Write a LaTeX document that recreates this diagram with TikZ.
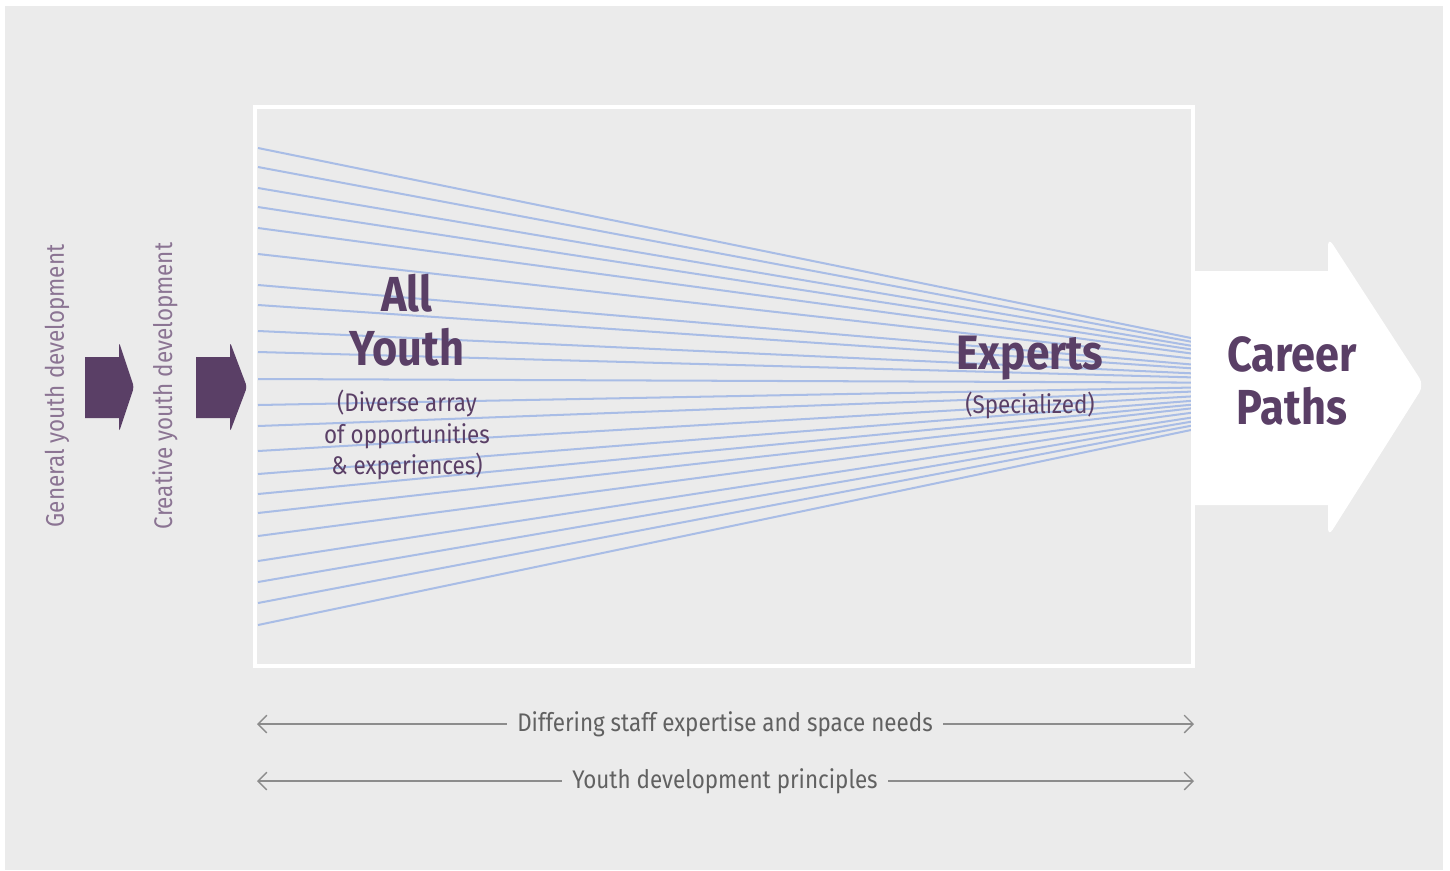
\documentclass[tikz,border=0pt]{standalone}
\usepackage{fontspec}
\setmainfont{Fira Sans}[FakeStretch=0.88]
\usetikzlibrary{arrows.meta,calc,positioning}

\definecolor{bggray}{HTML}{EBEBEB}
\definecolor{plum}{HTML}{5A3F66}
\definecolor{lightplum}{HTML}{8B7493}
\definecolor{fanblue}{HTML}{A9BDE6}
\definecolor{textgray}{HTML}{616161}
\definecolor{rulegray}{HTML}{8C8C8C}

\begin{document}
\begin{tikzpicture}[
    x=0.02cm, y=-0.02cm,
    every node/.style={align=center, inner sep=0pt},
    bigtitle/.style={text=plum, font=\fontsize{28}{30.5}\selectfont\bfseries},
    subtitle/.style={text=plum, font=\fontsize{14.5}{18}\selectfont},
    sidelabel/.style={text=lightplum, font=\fontsize{14.5}{16}\selectfont, rotate=90},
    rangelabel/.style={text=textgray, fill=bggray, inner xsep=6pt, font=\fontsize{14.5}{16}\selectfont},
    fanline/.style={fanblue, line width=1.15pt},
    rangearrow/.style={rulegray, line width=0.8pt, {Straight Barb[length=5pt,width=10pt]}-{Straight Barb[length=5pt,width=10pt]}},
    blockarrow/.style={fill=plum}
]

% --- Background ---
\useasboundingbox (0,0) rectangle (1450,870);
\fill[white] (0,0) rectangle (1450,870);
\fill[bggray] (5,6) rectangle (1443,870);

% --- Fan of lines ---
\foreach \ly [count=\i] in {148,167,188,207,228,254,285,305,331,352,379,405,426,451,474,494,513,536,561,582,603,625} {
    \pgfmathsetmacro{\ry}{338+(\ly-148)/477*92}
    \coordinate (fanL\i) at (258,\ly);
    \coordinate (fanR\i) at (1191,\ry);
    \draw[fanline] (fanL\i) -- (fanR\i);
}

% --- Frame ---
\draw[white, line width=1.8pt] (255,107) rectangle (1193,666);

% --- Small arrows ---
\fill[blockarrow] (85,357) -- (119,357) [rounded corners=2pt] -- (119,342) -- (134,387) -- (119,432) [sharp corners] -- (119,418) -- (85,418) -- cycle;
\fill[blockarrow] (196,357) -- (230,357) [rounded corners=2pt] -- (230,342) -- (247,387) -- (230,432) [sharp corners] -- (230,418) -- (196,418) -- cycle;

% --- Big arrow ---
\fill[white] (1193,271) -- (1328,271) [rounded corners=5pt] -- (1328,237) -- (1424,385) -- (1328,537) [sharp corners] -- (1328,505) -- (1193,505) -- cycle;

% --- Labels ---
\node[sidelabel] (general) at (57,386) {General youth development};
\node[sidelabel] (creative) at (165,386) {Creative youth development};
\node[bigtitle] (allyouth) at (407,320) {All\\Youth};
\node[subtitle] (diverse) at (407,435) {(Diverse array\\of opportunities\\\&~experiences)};
\node[bigtitle, font=\fontsize{27.5}{30}\selectfont\bfseries] (experts) at (1030,358) {Experts};
\node[subtitle, font=\fontsize{14.5}{16}\selectfont] (specialized) at (1030,405) {(Specialized)};
\node[bigtitle] (career) at (1292,381) {Career\\Paths};

% --- Bottom ranges ---
\coordinate (staffL) at (257,724);
\coordinate (staffR) at (1194,724);
\coordinate (principlesL) at (257,781);
\coordinate (principlesR) at (1194,781);
\draw[rangearrow] (staffL) -- (staffR);
\draw[rangearrow] (principlesL) -- (principlesR);
\node[rangelabel] (staff) at (725,724) {Differing staff expertise and space needs};
\node[rangelabel] (principles) at (725,781) {Youth development principles};

\end{tikzpicture}
\end{document}
